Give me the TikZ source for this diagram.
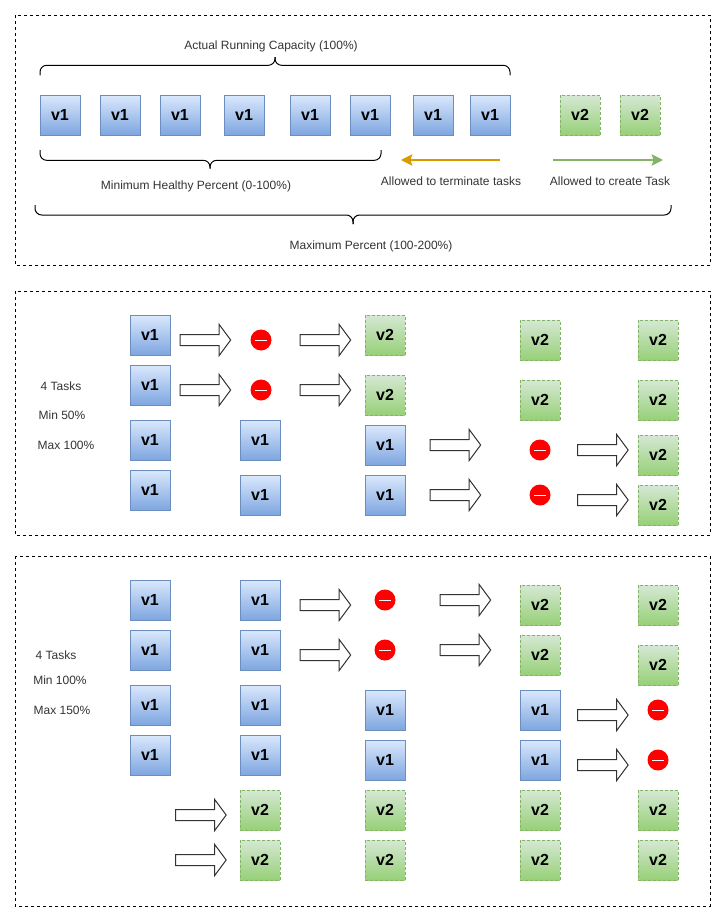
\documentclass[tikz,border=0pt]{standalone}
\usepackage{fontspec}
\setmainfont{Liberation Sans}
\usetikzlibrary{shapes.arrows,arrows.meta}
\definecolor{BlueEdge}{HTML}{6C8EBF}
\definecolor{BlueTop}{HTML}{DAE8FC}
\definecolor{BlueBottom}{HTML}{7EA6E0}
\definecolor{GreenEdge}{HTML}{82B366}
\definecolor{GreenTop}{HTML}{D5E8D4}
\definecolor{GreenBottom}{HTML}{97D077}
\definecolor{OrangeEdge}{HTML}{D79B00}
\tikzset{
    taskbox/.style={minimum size=30pt, inner sep=0pt, outer sep=0pt, line width=0.75pt, font=\fontsize{12}{14}\selectfont\bfseries},
    vone/.style={taskbox, draw=BlueEdge, top color=BlueTop, bottom color=BlueBottom},
    vtwo/.style={taskbox, draw=GreenEdge, dash pattern=on 2.25pt off 1.5pt, top color=GreenTop, bottom color=GreenBottom},
    stopsign/.style={circle, fill=red, minimum size=15.75pt, inner sep=0pt, path picture={
        \draw[white, line width=0.75pt] (-4.5pt,0pt) -- (4.5pt,0pt);}},
    movearrow/.style={single arrow, anchor=tail, draw=black!80, fill=white, line width=0.75pt, minimum height=38pt, minimum width=22.5pt,
        single arrow head extend=7.5pt, single arrow tip angle=107, single arrow head indent=0pt,
        inner xsep=0pt, inner ysep=3.75pt, outer sep=0pt},
    frame/.style={draw=black, line width=0.75pt, dash pattern=on 2.25pt off 2.25pt},
    capbrace/.style={draw=black, line width=0.75pt, rounded corners=5pt},
    caption/.style={text=black!80, font=\fontsize{9}{11}\selectfont, inner sep=0pt, xshift=0.75pt, yshift=-0.4pt},
    tasktip/.style={-{Stealth[length=8.5pt,width=8.5pt,inset=1.5pt]}, line width=1.5pt}
}
\begin{document}
\begin{tikzpicture}[x=0.75pt, y=-0.75pt]
    \useasboundingbox (0,0) rectangle (726,921);

    % panels
    \draw[frame] (15,15) rectangle (710,265);
    \draw[frame] (15,291) rectangle (710,535);
    \draw[frame] (15,556) rectangle (710,906);

    % top panel
    \foreach \name/\xpos in {ta/60, tb/120, tc/180, td/244, te/310, tf/370, tg/433, th/490} {
        \node[vone] (\name) at (\xpos,115) {v1};
    }
    \node[vtwo] (ti) at (580,115) {v2};
    \node[vtwo] (tj) at (640,115) {v2};

    \foreach \xl/\xr/\xm/\yend/\ybar/\ytip in {40/510/275/75.3/65.3/57, 40/381/210/150/160.3/168.5, 35/671/353/205/215/224} {
        \draw[capbrace] (\xl,\yend) |- (\xm,\ybar) -- (\xm,\ytip);
        \draw[capbrace] (\xr,\yend) |- (\xm,\ybar) -- (\xm,\ytip);
    }

    \coordinate (termR) at (500,160);
    \coordinate (termL) at (401,160);
    \coordinate (creaL) at (553,160);
    \coordinate (creaR) at (663,160);
    \draw[OrangeEdge, tasktip] (termR) -- (termL);
    \draw[GreenEdge, tasktip] (creaL) -- (creaR);

    \node[caption] (capRun) at (270,46) {Actual Running Capacity (100\%)};
    \node[caption] (capMin) at (195,186) {Minimum Healthy Percent (0-100\%)};
    \node[caption] (capMax) at (370,245.5) {Maximum Percent (100-200\%)};
    \node[caption] (capTerm) at (450,181) {Allowed to terminate tasks};
    \node[caption] (capCrea) at (609,181) {Allowed to create Task};

    % middle panel
    \foreach \name/\xpos/\ypos in {ma/150/335, mb/150/385, mc/150/440, md/150/490, me/260/440, mf/260/495, mg/385/445, mh/385/495} {
        \node[vone] (\name) at (\xpos,\ypos) {v1};
    }
    \foreach \name/\xpos/\ypos in {mi/385/335, mj/385/395, mk/540/340, ml/540/400, mm/658/340, mn/658/400, mo/658/455, mp/658/505} {
        \node[vtwo] (\name) at (\xpos,\ypos) {v2};
    }
    \foreach \name/\xpos/\ypos in {mq/261/340, mr/261/390, ms/540/450, mt/540/495} {
        \node[stopsign] (\name) at (\xpos,\ypos) {};
    }
    \foreach \name/\xpos/\ypos in {na/180/340, nb/180/390, nc/300/340, nd/300/390, ne/430/445, nf/430/495, ng/577.5/450, nh/577.5/500} {
        \node[movearrow] (\name) at (\xpos,\ypos) {};
    }
    \node[caption] (capTasksA) at (60,385.5) {4 Tasks};
    \node[caption] (capMinA) at (61,415) {Min 50\%};
    \node[caption] (capMaxA) at (65,445) {Max 100\%};

    % bottom panel
    \foreach \name/\xpos/\ypos in {ba/150/600, bb/150/650, bc/150/705, bd/150/755, be/260/600, bf/260/650, bg/260/705, bh/260/755, bi/385/710, bj/385/760, bk/540/710, bl/540/760} {
        \node[vone] (\name) at (\xpos,\ypos) {v1};
    }
    \foreach \name/\xpos/\ypos in {ca/260/810, cb/260/860, cc/385/810, cd/385/860, ce/540/605, cf/540/655, cg/540/810, ch/540/860, ci/658/605, cj/658/665, ck/658/810, cl/658/860} {
        \node[vtwo] (\name) at (\xpos,\ypos) {v2};
    }
    \foreach \name/\xpos/\ypos in {da/385/600, db/385/650, dc/658/710, dd/658/760} {
        \node[stopsign] (\name) at (\xpos,\ypos) {};
    }
    \foreach \name/\xpos/\ypos in {ea/175.5/815, eb/175.5/860, ec/300/605, ed/300/655, ee/440/600, ef/440/650, eg/577.5/715, eh/577.5/765} {
        \node[movearrow] (\name) at (\xpos,\ypos) {};
    }
    \node[caption] (capTasksB) at (55,655) {4 Tasks};
    \node[caption] (capMinB) at (59,680) {Min 100\%};
    \node[caption] (capMaxB) at (61,710) {Max 150\%};
\end{tikzpicture}
\end{document}
